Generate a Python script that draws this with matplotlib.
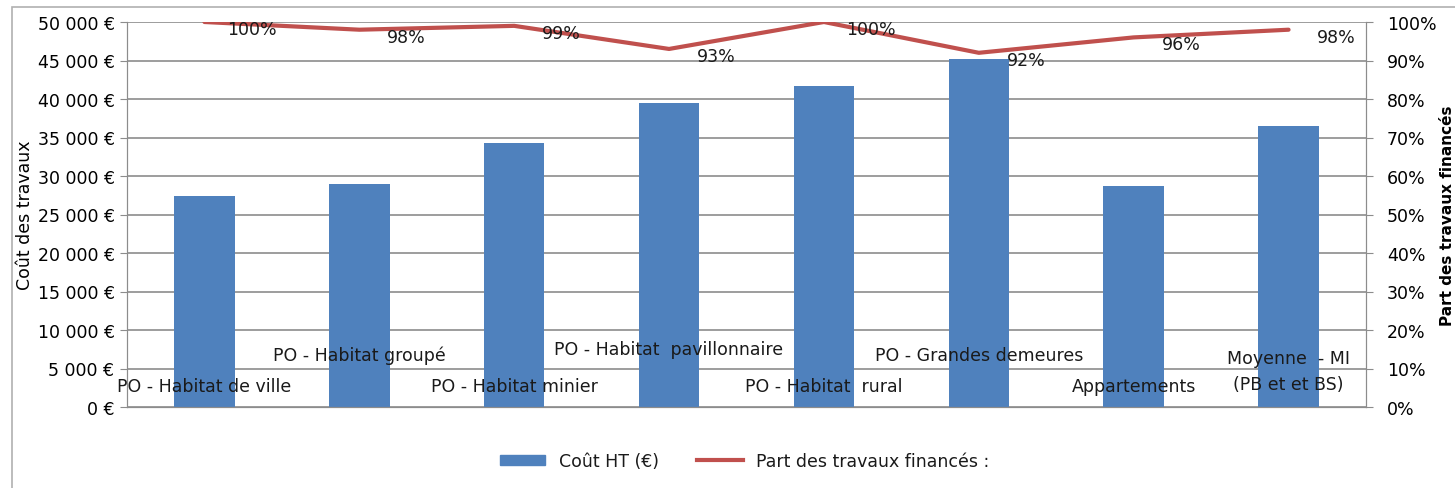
import matplotlib
matplotlib.use("Agg")
import matplotlib.pyplot as plt
from matplotlib.patches import Rectangle
from matplotlib.lines import Line2D
from matplotlib.transforms import blended_transform_factory

categories = ["PO - Habitat de ville", "PO - Habitat groupé", "PO - Habitat minier",
              "PO - Habitat  pavillonnaire", "PO - Habitat  rural", "PO - Grandes demeures",
              "Appartements", "Moyenne  - MI\n(PB et et BS)"]
cost = [27400, 29000, 34300, 39500, 41700, 45200, 28700, 36500]
share = [100, 98, 99, 93, 100, 92, 96, 98]
cost_ticks = list(range(0, 50001, 5000))
share_ticks = list(range(0, 101, 10))

BLUE, RED, GRID, INK = "#4F81BD", "#C0504D", "#8c8c8c", "#1a1a1a"
FS = 12.5
plt.rcParams.update({"font.family": "DejaVu Sans", "font.size": FS, "text.color": INK})

fig = plt.figure(figsize=(14.55, 4.89), dpi=100)
fig.patches.append(Rectangle((12 / 1455, -0.1), 1.2, 1 - 8 / 489 + 0.1, transform=fig.transFigure,
                             fill=False, ec="#b0b0b0", lw=1.2))
ax = fig.add_axes([127 / 1455, 1 - 408 / 489, (1366 - 127) / 1455, (408 - 23) / 489])
x = list(range(len(categories)))
ax.bar(x, cost, width=0.39, color=BLUE, zorder=2)
ax.set_xlim(-0.5, len(categories) - 0.5)
ax.set_ylim(0, 50000)
ax.set_yticks(cost_ticks)
ax.set_yticklabels([f"{v:,} €".replace(",", " ") for v in cost_ticks])
ax.set_xticks([])
ax.grid(axis="y", color=GRID, lw=1.2, zorder=0)
ax.tick_params(axis="y", length=5, color=GRID, pad=4)
ax.spines["top"].set_visible(False)
for s in ("left", "right", "bottom"):
    ax.spines[s].set_color(GRID)
ax.set_ylabel("Coût des travaux", zorder=5)
ax.yaxis.set_label_coords(-0.075, 0.5)

ax2 = ax.twinx()
ax2.plot(x, share, color=RED, lw=3, solid_capstyle="round", zorder=3)
ax2.set_ylim(0, 100)
ax2.set_yticks(share_ticks)
ax2.set_yticklabels([f"{v}%" for v in share_ticks])
ax2.tick_params(axis="y", length=5, color=GRID, pad=10)
ax2.spines["top"].set_visible(False)
for s in ("left", "right", "bottom"):
    ax2.spines[s].set_color(GRID)
ax2.set_ylabel("Part des travaux financés", fontweight="bold", fontsize=11)
ax2.yaxis.set_label_coords(1.06, 0.5)
for xi, v in zip(x, share):
    ax2.annotate(f"{v}%", (xi, v), xytext=(34, -5), textcoords="offset points",
                 ha="center", va="center", fontsize=FS)

# staggered category labels, drawn inside the plot area as in the source
tr = blended_transform_factory(ax.transData, ax.transAxes)
label_y = [0.055, 0.135, 0.055, 0.15, 0.055, 0.135, 0.055, 0.094]
for xi, lab, yy in zip(x, categories, label_y):
    ax.text(xi, yy, lab, transform=tr, ha="center", va="center", fontsize=FS, zorder=4,
            linespacing=1.6)

handles = [Rectangle((0, 0), 1, 1, color=BLUE), Line2D([0], [0], color=RED, lw=3)]
fig.legend(handles, ["Coût HT (€)", "Part des travaux financés :"], loc="center",
           bbox_to_anchor=(745 / 1455, 1 - 462 / 489), ncol=2, frameon=False,
           handlelength=2.6, handleheight=0.5, columnspacing=2.2, fontsize=FS)

fig.savefig("out.png", dpi=100, facecolor="white")
